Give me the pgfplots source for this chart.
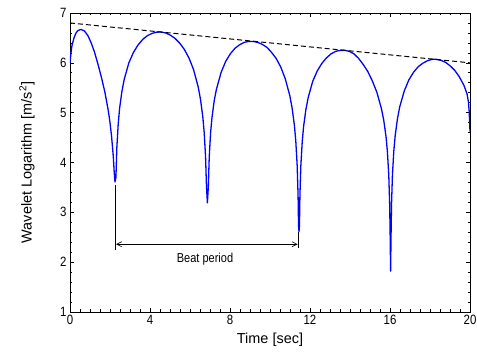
\documentclass[border=0pt]{standalone}
\usepackage{pgfplots}
\pgfplotsset{compat=1.18}
\usepackage{fontspec}
\setmainfont{Liberation Sans}
\newfontfamily\narrowfont{Liberation Sans}[FakeStretch=0.85]
\usetikzlibrary{arrows.meta}
\begin{document}
\begin{tikzpicture}
\begin{axis}[name=ax, scale only axis, width=400bp, height=299bp,
  xmin=0, xmax=20, ymin=1, ymax=7,
  xtick={0,4,...,20}, ytick={1,2,...,7},
  minor x tick num=7, minor y tick num=4,
  tick align=inside, xtick pos=both, ytick pos=both,
  major tick length=4bp, minor tick length=2.5bp,
  every tick/.style={black, line width=0.6pt},
  axis line style={line width=0.8pt},
  tick label style={font=\narrowfont\fontsize{13.5}{13.5}\selectfont},
  /pgf/number format/assume math mode=true,
  xlabel={Time [sec]}, ylabel={Wavelet Logarithm [m/s\textsuperscript{2}]},
  label style={font=\fontsize{14.5}{14.5}\selectfont},
  xlabel style={at={(axis description cs:0.5,-0.0936)}, anchor=center},
  ylabel style={at={(axis description cs:-0.1075,0.5)}, anchor=center},
  clip=true,
]
\addplot[blue, line width=1.3pt, line join=round] table {
x y
0 6.00
0.05 6.20
0.1 6.35
0.2 6.50
0.3 6.60
0.4 6.65
0.55 6.67
0.72 6.64
0.89 6.55
1.06 6.40
1.23 6.21
1.40 5.97
1.57 5.71
1.74 5.42
1.91 5.05
1.995 4.82
2.08 4.52
2.165 4.12
2.2075 3.82
2.25 3.61
2.2962 3.70
2.3424 4.30
2.4117 4.78
2.481 5.09
2.5965 5.43
2.712 5.67
2.943 6.00
3.174 6.21
3.405 6.36
3.636 6.47
3.867 6.545
4.098 6.59
4.329 6.616
4.56 6.618
4.791 6.598
5.022 6.555
5.253 6.49
5.484 6.396
5.715 6.27
5.946 6.10
6.177 5.866
6.408 5.52
6.5235 5.27
6.639 4.92
6.7083 4.61
6.7776 4.12
6.8238 3.52
6.87 3.19
6.9158 3.51
6.9616 4.11
7.0303 4.60
7.099 4.90
7.2135 5.25
7.328 5.48
7.557 5.81
7.786 6.03
8.015 6.18
8.244 6.29
8.473 6.36
8.702 6.41
8.931 6.43
9.16 6.43
9.389 6.41
9.618 6.37
9.847 6.31
10.076 6.21
10.305 6.09
10.534 5.92
10.763 5.68
10.992 5.34
11.1065 5.09
11.221 4.74
11.2897 4.43
11.3584 3.94
11.4042 3.33
11.4271 2.73
11.45 2.61
11.4729 2.73
11.4958 3.33
11.5416 3.93
11.6103 4.41
11.679 4.72
11.7935 5.06
11.908 5.30
12.137 5.63
12.366 5.84
12.595 5.99
12.824 6.10
13.053 6.18
13.282 6.23
13.511 6.25
13.74 6.25
13.969 6.23
14.198 6.18
14.427 6.09
14.656 5.97
14.885 5.83
15.114 5.64
15.343 5.41
15.572 5.08
15.6865 4.85
15.801 4.52
15.8697 4.22
15.9384 3.75
15.9842 3.15
16.0071 2.55
16.03 1.82
16.0529 2.54
16.0758 3.15
16.1216 3.75
16.1903 4.23
16.259 4.54
16.3735 4.88
16.488 5.12
16.717 5.44
16.946 5.66
17.175 5.81
17.404 5.92
17.633 5.99
17.862 6.04
18.091 6.07
18.32 6.07
18.549 6.05
18.778 6.01
19.007 5.94
19.236 5.85
19.465 5.72
19.694 5.55
19.85 5.38
19.92 5.22
19.96 5.02
20 4.62
};
\addplot[black, line width=1pt, dash pattern=on 5bp off 3bp] coordinates {(0,6.8) (20,6.0)};
\draw[line width=0.6pt] (axis cs:2.25,3.55) -- (axis cs:2.25,2.24);
\draw[line width=0.6pt] (axis cs:11.43,2.61) -- (axis cs:11.43,2.29);
\draw[line width=0.6pt, {Straight Barb[length=5bp,width=5bp]}-{Straight Barb[length=5bp,width=5bp]}] (axis cs:2.3,2.36) -- (axis cs:11.38,2.36);
\node[font=\narrowfont\fontsize{13}{13}\selectfont] at (axis cs:6.75,2.06) {Beat period};
\end{axis}
\pgfresetboundingbox
\path[use as bounding box] ([xshift=-70bp,yshift=-42bp]ax.south west) rectangle ([xshift=7bp,yshift=13bp]ax.north east);
\end{tikzpicture}
\end{document}
